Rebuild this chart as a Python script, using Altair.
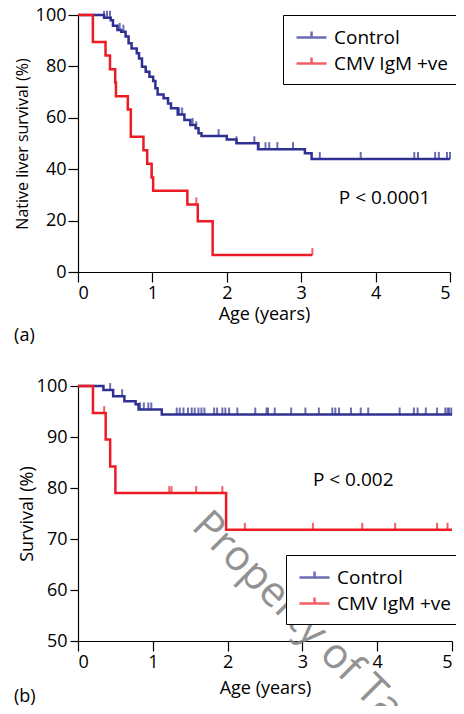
import altair as alt
import pandas as pd

BLUE = "#2E3192"
RED = "#ED1C24"
FONT = "Open Sans"
GROUPS = ["Control", "CMV IgM +ve"]

# ---------------- Panel (a): native liver survival ----------------
a_ctrl_t = [0, 0.35, 0.44, 0.47, 0.53, 0.58, 0.64, 0.68, 0.72, 0.79, 0.82, 0.86, 0.91, 0.96,
            1.01, 1.04, 1.07, 1.15, 1.21, 1.25, 1.34, 1.43, 1.51, 1.58, 1.62, 1.66, 2.00, 2.13,
            2.42, 3.05, 3.14, 5.0]
a_ctrl_s = [100, 98.9, 98.0, 95.8, 94.2, 93.5, 91.6, 89.0, 87.0, 85.1, 83.1, 79.9, 77.9, 76.0,
            74.3, 71.5, 69.1, 67.6, 65.6, 63.7, 61.3, 59.1, 57.2, 55.9, 54.0, 52.9, 51.6, 50.1,
            47.8, 46.2, 44.0, 44.0]
a_ctrl_cens = [0.35, 0.39, 0.43, 0.56, 0.61, 1.36, 1.40, 1.54, 1.59, 1.89, 2.13, 2.37, 2.43,
               2.52, 2.57, 2.68, 2.89, 3.25, 3.80, 4.52, 4.57, 4.80, 4.85, 4.96, 5.0]
a_cmv_t = [0, 0.20, 0.37, 0.43, 0.50, 0.51, 0.67, 0.71, 0.88, 0.93, 0.99, 1.01, 1.47, 1.61,
           1.81, 3.15]
a_cmv_s = [100, 89.5, 84.2, 78.9, 73.7, 68.4, 63.2, 52.6, 47.4, 42.1, 36.8, 31.6, 26.3, 19.7,
           6.6, 6.6]
a_cmv_cens = [0.67, 0.99, 1.59, 3.15]
a_pvalue = "P < 0.0001"
a_pvalue_pos = (4.12, 26.5)

# ---------------- Panel (b): survival ----------------
b_ctrl_t = [0, 0.34, 0.47, 0.62, 0.77, 0.81, 1.12, 5.0]
b_ctrl_s = [100, 99.2, 98.0, 97.0, 96.4, 95.4, 94.4, 94.4]
b_ctrl_cens = [0.43, 0.59, 0.83, 0.88, 0.94, 0.98, 1.32, 1.36, 1.41, 1.47, 1.52, 1.56, 1.61,
               1.65, 1.69, 1.82, 1.86, 1.93, 1.97, 2.02, 2.13, 2.37, 2.52, 2.54, 2.63, 2.85,
               3.04, 3.22, 3.40, 3.44, 3.49, 3.65, 3.78, 3.88, 4.30, 4.49, 4.54, 4.65, 4.80,
               4.91, 4.94, 4.96, 4.99]
b_cmv_t = [0, 0.20, 0.37, 0.43, 0.50, 1.98, 5.0]
b_cmv_s = [100, 94.7, 89.5, 84.2, 79.0, 71.8, 71.8]
b_cmv_cens = [0.35, 1.22, 1.25, 1.58, 1.93, 2.23, 3.14, 3.80, 4.24, 4.80, 4.94]
b_pvalue = "P < 0.002"
b_pvalue_pos = (3.68, 80.4)

watermark = "Property of Ta"
watermark_pos = (1.50, 72.2)

# legend symbol: a line with a censoring tick in its middle
LEGEND_SYMBOL = "M-0.82,0L1.91,0M0.55,0L0.55,-0.55"


def step_value(ts, ss, t):
    v = ss[0]
    for ti, si in zip(ts, ss):
        if ti <= t:
            v = si
    return v


def frames(ct, cs, cc, mt, ms, mc):
    lines = pd.DataFrame(
        {"t": ct + mt, "s": cs + ms, "g": ["Control"] * len(ct) + ["CMV IgM +ve"] * len(mt)}
    )
    ticks = pd.DataFrame(
        {
            "t": cc + mc,
            "s": [step_value(ct, cs, x) for x in cc] + [step_value(mt, ms, x) for x in mc],
            "g": ["Control"] * len(cc) + ["CMV IgM +ve"] * len(mc),
        }
    )
    return lines, ticks


def panel(lines, ticks, ydomain, yvalues, ytitle, ytitle_size, ytick, ylabpad, ytitlepad,
          xtitlepad, pval, ppos, legx, legy, w, h, letter=None, extra=()):
    color_scale = alt.Scale(domain=GROUPS, range=[BLUE, RED])
    xenc = alt.X(
        "t:Q",
        scale=alt.Scale(domain=[0, 5], nice=False, zero=False),
        axis=alt.Axis(values=[0, 1, 2, 3, 4, 5], title="Age (years)", tickSize=10,
                      labelPadding=2, titlePadding=xtitlepad, format="d"),
    )
    yenc = alt.Y(
        "s:Q",
        scale=alt.Scale(domain=ydomain, nice=False, zero=False),
        axis=alt.Axis(values=yvalues, title=ytitle, titleFontSize=ytitle_size, tickSize=ytick,
                      labelPadding=ylabpad, titlePadding=ytitlepad),
    )
    legend = alt.Legend(
        title=None, orient="none", legendX=legx, legendY=legy,
        symbolType=LEGEND_SYMBOL, symbolSize=484, symbolStrokeWidth=2.5,
        symbolFillColor="transparent", labelLimit=300,
        labelFontSize=19, labelFont=FONT, labelColor="black", labelOffset=16,
        strokeColor="black", fillColor="white", padding=10, rowPadding=3,
    )
    line = alt.Chart(lines).mark_line(interpolate="step-after", strokeWidth=2.5).encode(
        x=xenc, y=yenc,
        color=alt.Color("g:N", scale=color_scale, legend=legend, sort=GROUPS),
        detail="g:N",
    )
    tick = alt.Chart(ticks).mark_tick(orient="vertical", size=7, thickness=2, yOffset=-3.5).encode(
        x="t:Q", y="s:Q",
        color=alt.Color("g:N", scale=color_scale, legend=legend, sort=GROUPS),
    )
    ptxt = alt.Chart(pd.DataFrame({"t": [ppos[0]], "s": [ppos[1]], "label": [pval]})).mark_text(
        fontSize=19, font=FONT, color="black", align="center", baseline="alphabetic"
    ).encode(x="t:Q", y="s:Q", text="label:N")
    layers = [line, tick, ptxt] + list(extra)
    props = dict(width=w, height=h)
    if letter is not None:
        props["title"] = alt.TitleParams(letter, orient="bottom", anchor="start", frame="bounds",
                                         fontSize=18, font=FONT, fontWeight="normal", offset=4)
    return alt.layer(*layers).properties(**props)


la, ta = frames(a_ctrl_t, a_ctrl_s, a_ctrl_cens, a_cmv_t, a_cmv_s, a_cmv_cens)
lb, tb = frames(b_ctrl_t, b_ctrl_s, b_ctrl_cens, b_cmv_t, b_cmv_s, b_cmv_cens)

wm = alt.Chart(pd.DataFrame({"t": [watermark_pos[0]], "s": [watermark_pos[1]], "label": [watermark]})).mark_text(
    fontSize=42, font=FONT, color="#808080", align="left", baseline="alphabetic", angle=45,
    opacity=0.85,
).encode(x="t:Q", y="s:Q", text="label:N")

letter_b = alt.Chart(pd.DataFrame({"label": ["(b)"]})).mark_text(
    fontSize=18, font=FONT, color="black", align="left", baseline="alphabetic"
).encode(x=alt.value(-64), y=alt.value(316), text="label:N")

top = panel(la, ta, [0, 100], [0, 20, 40, 60, 80, 100], "Native liver survival (%)", 16, 10, 2, 5,
            3, a_pvalue, a_pvalue_pos, 205, 0, 372, 257, letter="(a)")
bottom = panel(lb, tb, [50, 100], [50, 60, 70, 80, 90, 100], "Survival (%)", 18, 8, 3, 0,
               8, b_pvalue, b_pvalue_pos, 208, 169, 374, 255, extra=(wm, letter_b))

chart = alt.vconcat(top, bottom, spacing=32).resolve_scale(color="independent").resolve_legend(
    color="independent"
).properties(
    autosize=alt.AutoSizeParams(type="none"),
    padding={"left": 70, "top": 7, "right": 378, "bottom": 691},
).configure(
    font=FONT
).configure_view(stroke=None).configure_axis(
    grid=False, domainColor="black", tickColor="black", labelColor="black", titleColor="black",
    labelFontSize=18, titleFontSize=18, titleFontWeight="normal", labelFont=FONT, titleFont=FONT,
    domainWidth=1.2, tickWidth=1.2,
)

chart.save("out.html", embed_options={"renderer": "svg", "actions": False})
